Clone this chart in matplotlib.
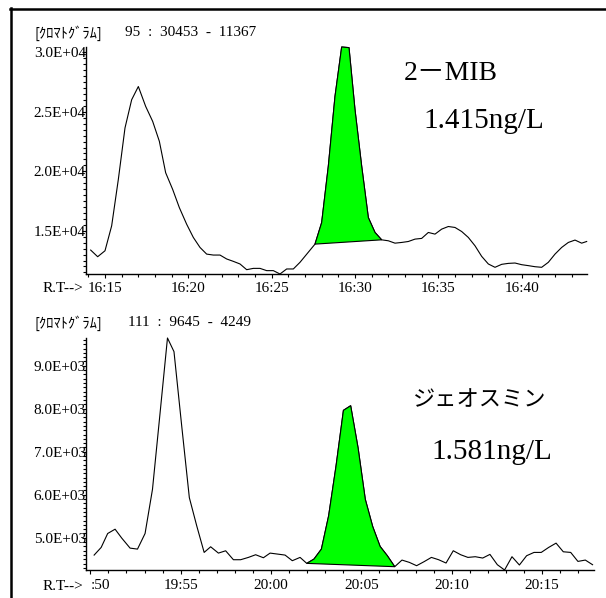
import numpy as np
import matplotlib
matplotlib.use("Agg")
import matplotlib.pyplot as plt
from matplotlib.lines import Line2D
from matplotlib.ticker import MultipleLocator

plt.rcParams['font.family'] = ['Liberation Serif', 'Noto Sans CJK JP']

# 2-MIB (m/z 95), retention time in minutes after 16:00
mib_t = [14.14, 14.56, 15.00, 15.40, 15.80, 16.20, 16.60, 17.00, 17.44, 17.86,
         18.26, 18.64, 19.06, 19.46, 19.90, 20.30, 20.70, 21.10, 21.50, 21.90,
         22.30, 22.70, 23.10, 23.50, 23.90, 24.30, 24.70, 25.10, 25.50, 25.90,
         26.30, 26.70, 27.60, 28.00, 28.40, 28.80, 29.20, 29.64, 30.00, 30.40,
         30.80, 31.20, 31.60, 32.00, 32.40, 32.80, 33.20, 33.60, 34.00, 34.40,
         34.80, 35.20, 35.60, 36.00, 36.40, 36.80, 37.20, 37.60, 38.00, 38.40,
         38.80, 39.20, 39.60, 40.00, 40.40, 40.80, 41.20, 41.60, 42.00, 42.40,
         42.80, 43.20, 43.60, 43.90]
mib_v = [13380, 12820, 13320, 15420, 19320, 23650, 26020, 27130, 25460, 24200,
         22530, 19880, 18480, 16950, 15550, 14440, 13600, 13040, 12960, 12960,
         12630, 12430, 12210, 11730, 11840, 11840, 11650, 11650, 11367, 11790,
         11790, 12350, 13880, 15690, 20440, 26300, 30453, 30400, 25180, 20440,
         16110, 14860, 14240, 14160, 13960, 14020, 14100, 14300, 14360, 14860,
         14720, 15140, 15360, 15280, 14940, 14440, 13740, 12850, 12210, 11930,
         12180, 12260, 12290, 12150, 12070, 11980, 11930, 12350, 13040, 13600,
         14020, 14220, 13960, 14100]
mib_peak = (27.6, 31.6)
mib_ticks = [15, 20, 25, 30, 35, 40]
mib_labels = ["16:15", "16:20", "16:25", "16:30", "16:35", "16:40"]
mib_yticks = [15000, 20000, 25000, 30000]
mib_ylabels = ["1.5E+04", "2.0E+04", "2.5E+04", "3.0E+04"]

# ジェオスミン (m/z 111), retention time in minutes after 19:00
geo_t = [50.21, 50.60, 50.96, 51.37, 51.74, 52.20, 52.61, 53.03, 53.44, 53.86,
         54.27, 54.63, 55.06, 55.48, 55.89, 56.30, 56.66, 57.09, 57.49, 57.92,
         58.32, 58.75, 59.15, 59.58, 59.95, 60.37, 60.78, 61.18, 61.61, 61.98,
         62.38, 62.79, 63.19, 63.60, 64.01, 64.41, 64.82, 65.22, 65.63, 66.04,
         66.44, 66.85, 67.25, 67.66, 68.06, 68.47, 68.88, 69.28, 69.69, 70.09,
         70.50, 70.90, 71.31, 71.72, 72.12, 72.53, 72.93, 73.34, 73.75, 74.15,
         74.56, 74.96, 75.37, 75.78, 76.18, 76.59, 76.99, 77.40, 77.80]
geo_v = [4596, 4774, 5098, 5198, 4990, 4758, 4735, 5098, 6125, 7900,
         9645, 9328, 7591, 5932, 5275, 4658, 4789, 4642, 4696, 4488,
         4488, 4542, 4604, 4534, 4642, 4619, 4596, 4465, 4542, 4403,
         4503, 4735, 5507, 6665, 7962, 8070, 7090, 5893, 5260, 4797,
         4581, 4326, 4480, 4426, 4349, 4442, 4542, 4488, 4411, 4697,
         4604, 4542, 4558, 4527, 4612, 4372, 4249, 4558, 4365, 4581,
         4658, 4658, 4774, 4874, 4673, 4658, 4449, 4480, 4372]
geo_peak = (61.98, 66.85)
geo_ticks = [50, 55, 60, 65, 70, 75]
geo_labels = [":50", "19:55", "20:00", "20:05", "20:10", "20:15"]
geo_yticks = [5000, 6000, 7000, 8000, 9000]
geo_ylabels = ["5.0E+03", "6.0E+03", "7.0E+03", "8.0E+03", "9.0E+03"]

W, H = 606, 598
fig = plt.figure(figsize=(W / 100, H / 100), dpi=100)
fig.patch.set_facecolor('white')


def draw(ax, t, v, peak, xt, xl, yt, yl, xlim, ylim, yminor, xpad):
    t = np.array(t)
    v = np.array(v)
    ax.plot(t, v, color='black', lw=0.8, clip_on=False)
    m = (t >= peak[0] - 1e-6) & (t <= peak[1] + 1e-6)
    ax.fill(t[m], v[m], facecolor='#00ff00', edgecolor='black', lw=0.8,
            clip_on=False, zorder=3)
    ax.set_xlim(xlim)
    ax.set_ylim(ylim)
    ax.set_xticks(xt, xl)
    ax.set_yticks(yt, yl)
    ax.xaxis.set_minor_locator(MultipleLocator(1))
    ax.yaxis.set_minor_locator(MultipleLocator(yminor))
    for s in ['top', 'right']:
        ax.spines[s].set_visible(False)
    for s in ['left', 'bottom']:
        ax.spines[s].set_linewidth(1.0)
    ax.tick_params(axis='x', which='major', length=3, width=0.8, pad=xpad,
                   labelsize=11)
    ax.tick_params(axis='x', which='minor', length=2.2, width=0.8)
    ax.tick_params(axis='y', which='major', length=3, width=0.8, pad=-3,
                   labelsize=11)
    ax.tick_params(axis='y', which='minor', length=2, width=0.8)
    ax.patch.set_alpha(0)


ax1 = fig.add_axes([86 / W, 1 - 274 / H, 501 / W, 227 / H])
draw(ax1, mib_t, mib_v, mib_peak, mib_ticks, mib_labels, mib_yticks, mib_ylabels,
     (13.86, 43.92), (11367, 30453), 500, 3.0)

ax2 = fig.add_axes([86 / W, 1 - 570 / H, 508 / W, 232 / H])
draw(ax2, geo_t, geo_v, geo_peak, geo_ticks, geo_labels, geo_yticks, geo_ylabels,
     (49.76, 77.88), (4249, 9645), 100, 3.5)
# the first label is partly hidden behind "R.T-->" in the original
ax2.get_xticklabels()[0].set_horizontalalignment('left')


def ftext(x, y, s, **kw):
    fig.text(x / W, 1 - y / H, s, **kw)


# headers
ftext(35, 33, "[ｸﾛﾏﾄｸﾞﾗﾑ]", fontsize=10.5, va='center',
      family=['Noto Sans CJK JP'])
ftext(125, 33, "95  :  30453  -  11367", fontsize=11, va='center')
ftext(35, 323, "[ｸﾛﾏﾄｸﾞﾗﾑ]", fontsize=10.5, va='center',
      family=['Noto Sans CJK JP'])
ftext(128, 323, "111  :  9645  -  4249", fontsize=11, va='center')

# R.T--> labels
ftext(43, 292, "R.T-->", fontsize=11, va='baseline')
ftext(43, 590, "R.T-->", fontsize=11, va='baseline')

# compound names and concentrations
ftext(451, 80, "2－MIB", fontsize=20, ha='center', va='baseline')
ftext(484, 128, "1.415ng/L", fontsize=21, ha='center', va='baseline')
ftext(480, 400, "ジェオスミン", fontsize=16, ha='center', va='center',
      family=['Noto Sans CJK JP'])
ftext(492, 459, "1.581ng/L", fontsize=21, ha='center', va='baseline')

# outer frame (left and top edges)
fig.add_artist(Line2D([11 / W, 11 / W], [1 - 8 / H, 0], color='black', lw=1.8,
                      transform=fig.transFigure))
fig.add_artist(Line2D([10 / W, 1], [1 - 9 / H, 1 - 9 / H], color='black', lw=1.8,
                      transform=fig.transFigure))

fig.savefig('out.png', dpi=100)
